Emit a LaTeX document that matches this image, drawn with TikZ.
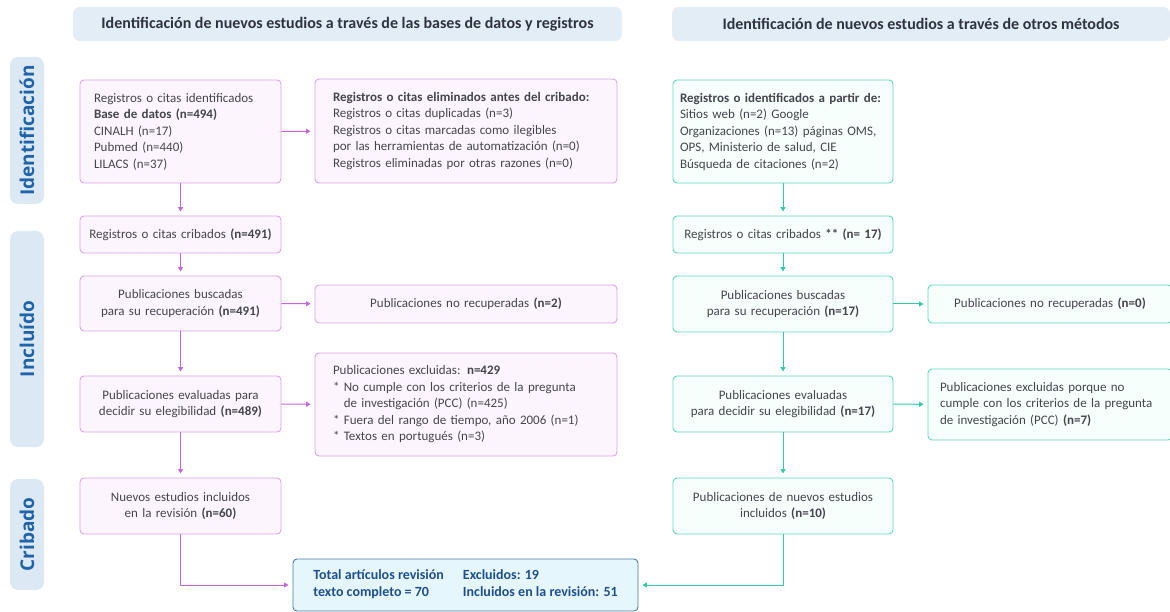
\documentclass[tikz,border=0pt]{standalone}
\usepackage{fontspec}
\setmainfont{Carlito}
\newfontfamily\stagefont{Open Sans}
\usetikzlibrary{arrows.meta}

\definecolor{pinkline}{HTML}{DDA0EA}
\definecolor{pinkfill}{HTML}{FDF5FE}
\definecolor{pinkarrow}{HTML}{C765DF}
\definecolor{greenline}{HTML}{5ED8BE}
\definecolor{greenfill}{HTML}{F6FFFC}
\definecolor{greenarrow}{HTML}{2FCBA8}
\definecolor{headfill}{HTML}{E3EDF6}
\definecolor{headtext}{HTML}{2E3340}
\definecolor{stagefill}{HTML}{DCE8F4}
\definecolor{stagetext}{HTML}{1F63A8}
\definecolor{bodytext}{HTML}{45454D}
\definecolor{totalline}{HTML}{4C79A6}
\definecolor{totalfill}{HTML}{E5F7FC}
\definecolor{totaltext}{HTML}{1E4F8E}

\tikzset{
	box/.style={rounded corners=4pt, line width=0.9pt, inner xsep=0pt, inner ysep=0pt, text=bodytext, font=\fontsize{13}{16.5}\selectfont},
	pbox/.style={box, draw=pinkline, fill=pinkfill},
	gbox/.style={box, draw=greenline, fill=greenfill},
	head/.style={rounded corners=7pt, fill=headfill, text=headtext, inner sep=0pt, minimum height=34pt, font=\fontsize{16}{18}\selectfont\bfseries},
	stage/.style={rotate=90, rounded corners=8pt, fill=stagefill, text=stagetext, inner sep=0pt, minimum height=34pt, font=\fontsize{19}{22}\stagefont\bfseries},
	parrow/.style={draw=pinkarrow, line width=1pt, -{Triangle[length=4.5pt,width=5pt]}, shorten >=4pt},
	garrow/.style={draw=greenarrow, line width=1pt, -{Triangle[length=4.5pt,width=5pt]}, shorten >=4pt},
}

\begin{document}
\begin{tikzpicture}[x=1pt, y=-1pt]
	\useasboundingbox (0,0) rectangle (1170,612);

	\node[head, minimum width=549pt] (headl) at (347.5,24) {Identificación de nuevos estudios a través de las bases de datos y registros};
	\node[head, minimum width=498pt] (headr) at (921,24) {Identificación de nuevos estudios a través de otros métodos};

	\node[stage, minimum width=147pt] (sident) at (27,130.5) {Identificación};
	\node[stage, minimum width=216pt] (sincl) at (27,339) {Incluído};
	\node[stage, minimum width=111pt] (scrib) at (27,534.5) {Cribado};

	% bases de datos y registros
	\node[pbox, minimum width=201pt, minimum height=103pt, text width=173pt, align=left] (idl) at (180.5,131.5) {Registros o citas identificados\\\textbf{Base de datos (n=494)}\\CINALH (n=17)\\Pubmed (n=440)\\LILACS (n=37)};
	\node[pbox, minimum width=201pt, minimum height=37pt, text width=191pt, align=center] (cribl) at (180.5,234.5) {Registros o citas cribados \textbf{(n=491)}};
	\node[pbox, minimum width=201pt, minimum height=55pt, text width=191pt, align=center] (buscl) at (180.5,303.5) {Publicaciones buscadas\\para su recuperación \textbf{(n=491)}};
	\node[pbox, minimum width=201pt, minimum height=56pt, text width=191pt, align=center] (evall) at (180.5,404) {Publicaciones evaluadas para\\decidir su elegibilidad \textbf{(n=489)}};
	\node[pbox, minimum width=201pt, minimum height=56pt, text width=191pt, align=center] (nuevol) at (180.5,506) {Nuevos estudios incluidos\\en la revisión \textbf{(n=60)}};

	\node[pbox, minimum width=302pt, minimum height=104pt, text width=266pt, align=left] (elim) at (466,131) {\textbf{Registros o citas eliminados antes del cribado:}\\Registros o citas duplicadas (n=3)\\Registros o citas marcadas como ilegibles\\por las herramientas de automatización (n=0)\\Registros eliminadas por otras razones (n=0)};
	\node[pbox, minimum width=302pt, minimum height=38pt, text width=280pt, align=center] (norecl) at (466,304) {Publicaciones no recuperadas \textbf{(n=2)}};
	\node[pbox, minimum width=302pt, minimum height=103pt, text width=266pt, align=left] (excll) at (466,404.5) {Publicaciones excluidas: \textbf{n=429}\\{*} No cumple con los criterios de la pregunta\\\phantom{* }de investigación (PCC) (n=425)\\{*} Fuera del rango de tiempo, año 2006 (n=1)\\{*} Textos en portugués (n=3)};

	% otros métodos
	\node[gbox, minimum width=220pt, minimum height=103pt, text width=206pt, align=left] (idr) at (783,131.5) {\textbf{Registros o identificados a partir de:}\\Sitios web (n=2) Google\\Organizaciones (n=13) páginas OMS,\\OPS, Ministerio de salud, CIE\\Búsqueda de citaciones (n=2)};
	\node[gbox, minimum width=220pt, minimum height=37pt, text width=206pt, align=center] (cribr) at (783,234.5) {Registros o citas cribados \textbf{** (n= 17)}};
	\node[gbox, minimum width=220pt, minimum height=56pt, text width=206pt, align=center] (buscr) at (783,304) {Publicaciones buscadas\\para su recuperación \textbf{(n=17)}};
	\node[gbox, minimum width=220pt, minimum height=56pt, text width=206pt, align=center] (evalr) at (783,404) {Publicaciones evaluadas\\para decidir su elegibilidad \textbf{(n=17)}};
	\node[gbox, minimum width=220pt, minimum height=56pt, text width=206pt, align=center] (nuevor) at (783,506) {Publicaciones de nuevos estudios\\incluidos \textbf{(n=10)}};

	\node[gbox, minimum width=244pt, minimum height=38pt, text width=230pt, align=center] (norecr) at (1050,304) {Publicaciones no recuperadas \textbf{(n=0)}};
	\node[gbox, minimum width=244pt, minimum height=71pt, text width=220pt, align=left] (exclr) at (1050,404.5) {Publicaciones excluidas porque no\\cumple con los criterios de la pregunta\\de investigación (PCC) \textbf{(n=7)}};

	\node[box, draw=totalline, fill=totalfill, text=totaltext, minimum width=345pt, minimum height=52pt, font=\fontsize{14}{17}\selectfont\bfseries] (total) at (465.5,585) {\begin{tabular}{@{}l@{\hspace{19pt}}l@{}}Total artículos revisión & Excluidos: 19\\texto completo = 70 & Incluidos en la revisión: 51\end{tabular}};

	\draw[parrow] (idl)--(cribl);
	\draw[parrow] (cribl)--(buscl);
	\draw[parrow] (buscl)--(evall);
	\draw[parrow] (evall)--(nuevol);
	\draw[parrow] (idl)--(elim);
	\draw[parrow] (buscl)--(norecl);
	\draw[parrow] (evall)--(excll);
	\draw[parrow] (nuevol.south) |- (total.west);

	\draw[garrow] (idr)--(cribr);
	\draw[garrow] (cribr)--(buscr);
	\draw[garrow] (buscr)--(evalr);
	\draw[garrow] (evalr)--(nuevor);
	\draw[garrow] (buscr)--(norecr);
	\draw[garrow] (evalr)--(exclr);
	\draw[garrow] (nuevor.south) |- (total.east);
\end{tikzpicture}
\end{document}
